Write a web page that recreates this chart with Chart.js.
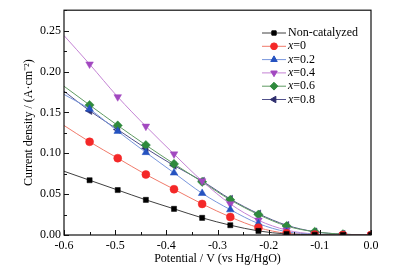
<!DOCTYPE html>
<html>
<head>
<meta charset="utf-8">
<script src="https://cdn.jsdelivr.net/npm/chart.js@4.4.1/dist/chart.umd.min.js"></script>
<style>
  html, body { margin: 0; padding: 0; background: #fff; }
  #wrap { width: 395px; height: 270px; position: relative; }
</style>
</head>
<body>
<div id="wrap"><canvas id="lsvChart"></canvas></div>
<script>
// potentials (V vs Hg/HgO); first point has no marker
const potentials = [-0.6, -0.55, -0.495, -0.44, -0.385, -0.33, -0.275, -0.22, -0.165, -0.11, -0.055, 0];
const seriesNames = ['Non-catalyzed', 'x=0', 'x=0.2', 'x=0.4', 'x=0.6', 'x=0.8'];
const nonCatalyzed = [0.078, 0.067, 0.055, 0.043, 0.032, 0.021, 0.012, 0.005, 0.0012, 0.0003, 0, 0];
const x0 = [0.134, 0.114, 0.094, 0.074, 0.056, 0.038, 0.022, 0.009, 0.002, 0.0005, 0, 0];
const x02 = [0.172, 0.154, 0.127, 0.101, 0.076, 0.051, 0.031, 0.014, 0.004, 0.001, 0.0002, 0];
const x04 = [0.244, 0.209, 0.169, 0.133, 0.099, 0.066, 0.038, 0.018, 0.006, 0.0012, 0.0002, 0];
const x06 = [0.182, 0.159, 0.134, 0.110, 0.087, 0.065, 0.043, 0.025, 0.011, 0.004, 0.001, 0];
const x08 = [0.176, 0.152, 0.129, 0.106, 0.085, 0.066, 0.044, 0.026, 0.012, 0.004, 0.001, 0];
const xTicks = [-0.6, -0.5, -0.4, -0.3, -0.2, -0.1, 0.0];
const yTicks = [0, 0.05, 0.10, 0.15, 0.20, 0.25];

const allSeries = [nonCatalyzed, x0, x02, x04, x06, x08];
const markerColors = ['#000000', '#f42828', '#2452c0', '#a248c0', '#2f8a3c', '#2c2c6c'];
const lineColors = ['#404040', '#f07a6a', '#7896dc', '#c483d4', '#5f9a62', '#50508a'];
const pointStyles = ['rect', 'circle', 'triangle', 'triangle', 'rectRot', 'triangle'];
const rotations = [0, 0, 0, 180, 0, -90];
const radii = [3.6, 4, 4.4, 4.4, 4.6, 4.4];
const FONT = "'Liberation Serif', 'Times New Roman', serif";

const datasets = allSeries.map((vals, i) => ({
  label: seriesNames[i],
  data: potentials.map((p, k) => ({ x: p, y: vals[k] })),
  borderColor: lineColors[i],
  borderWidth: 1,
  backgroundColor: markerColors[i],
  pointBackgroundColor: markerColors[i],
  pointBorderColor: markerColors[i],
  pointBorderWidth: 0.5,
  pointStyle: pointStyles[i],
  pointRotation: rotations[i],
  pointRadius: potentials.map((p, k) => k === 0 ? 0 : radii[i]),
  cubicInterpolationMode: 'monotone',
  fill: false
}));

// frame, inward ticks and legend
const decorPlugin = {
  id: 'decor',
  afterDraw(chart) {
    const ctx = chart.ctx;
    const a = chart.chartArea;
    const xs = chart.scales.x, ys = chart.scales.y;
    ctx.save();
    ctx.strokeStyle = '#111';
    ctx.lineWidth = 1.2;
    ctx.strokeRect(a.left, a.top, a.right - a.left, a.bottom - a.top);
    ctx.lineWidth = 1;
    ctx.beginPath();
    for (let v = -0.6; v <= 0.0001; v += 0.05) {
      const px = Math.round(xs.getPixelForValue(v)) + 0.5;
      const major = Math.abs(Math.round(v * 10) - v * 10) < 1e-6;
      ctx.moveTo(px, a.bottom);
      ctx.lineTo(px, a.bottom - (major ? 5 : 3));
    }
    for (let v = 0; v <= 0.2751; v += 0.025) {
      const py = Math.round(ys.getPixelForValue(v)) + 0.5;
      const major = Math.abs(Math.round(v * 20) - v * 20) < 1e-6;
      ctx.moveTo(a.left, py);
      ctx.lineTo(a.left + (major ? 5 : 3), py);
    }
    ctx.stroke();

    // legend
    const lx = 262, ly = 33, rowH = 13.3;
    ctx.textBaseline = 'middle';
    chart.data.datasets.forEach((ds, i) => {
      const y = ly + i * rowH;
      ctx.strokeStyle = ds.borderColor;
      ctx.lineWidth = 1;
      ctx.beginPath();
      ctx.moveTo(lx, y);
      ctx.lineTo(lx + 24, y);
      ctx.stroke();
      const opts = {
        pointStyle: ds.pointStyle,
        rotation: ds.pointRotation,
        radius: radii[i] * 0.85,
        borderWidth: 0.5
      };
      ctx.fillStyle = ds.pointBackgroundColor;
      ctx.strokeStyle = ds.pointBorderColor;
      Chart.helpers.drawPoint(ctx, opts, lx + 12, y);
      ctx.fillStyle = '#000';
      let tx = lx + 26;
      const name = ds.label;
      if (name.startsWith('x')) {
        ctx.font = 'italic 12px ' + FONT;
        ctx.fillText('x', tx, y);
        tx += ctx.measureText('x').width;
        ctx.font = '12px ' + FONT;
        ctx.fillText(name.slice(1), tx, y);
      } else {
        ctx.font = '12px ' + FONT;
        ctx.fillText(name, tx, y);
      }
    });
    ctx.restore();
  }
};

const ctx = document.getElementById('lsvChart');
new Chart(ctx, {
  type: 'line',
  data: { datasets: datasets },
  options: {
    responsive: true,
    maintainAspectRatio: false,
    animation: false,
    layout: { padding: { left: 22, right: 24, top: 6, bottom: 0 } },
    plugins: {
      legend: { display: false },
      tooltip: { enabled: false }
    },
    scales: {
      x: {
        type: 'linear',
        min: -0.6,
        max: 0,
        afterBuildTicks(scale) { scale.ticks = xTicks.map(v => ({ value: v })); },
        afterFit(scale) { scale.height = 35; },
        grid: { display: false, drawTicks: false },
        border: { display: false },
        ticks: {
          padding: 4,
          color: '#000',
          font: { family: FONT, size: 12 },
          callback: v => v.toFixed(1)
        },
        title: {
          display: true,
          text: 'Potential / V (vs Hg/HgO)',
          color: '#000',
          font: { family: FONT, size: 12 },
          padding: { top: 0, bottom: 4 }
        }
      },
      y: {
        type: 'linear',
        min: 0,
        max: 0.275,
        afterBuildTicks(scale) { scale.ticks = yTicks.map(v => ({ value: v })); },
        afterFit(scale) { scale.width = 42; },
        grid: { display: false, drawTicks: false },
        border: { display: false },
        ticks: {
          padding: 3,
          color: '#000',
          font: { family: FONT, size: 12 },
          callback: v => v.toFixed(2)
        },
        title: {
          display: true,
          text: 'Current density / (A·cm⁻²)',
          color: '#000',
          font: { family: FONT, size: 12 },
          padding: 0
        }
      }
    }
  },
  plugins: [decorPlugin]
});
</script>
</body>
</html>
